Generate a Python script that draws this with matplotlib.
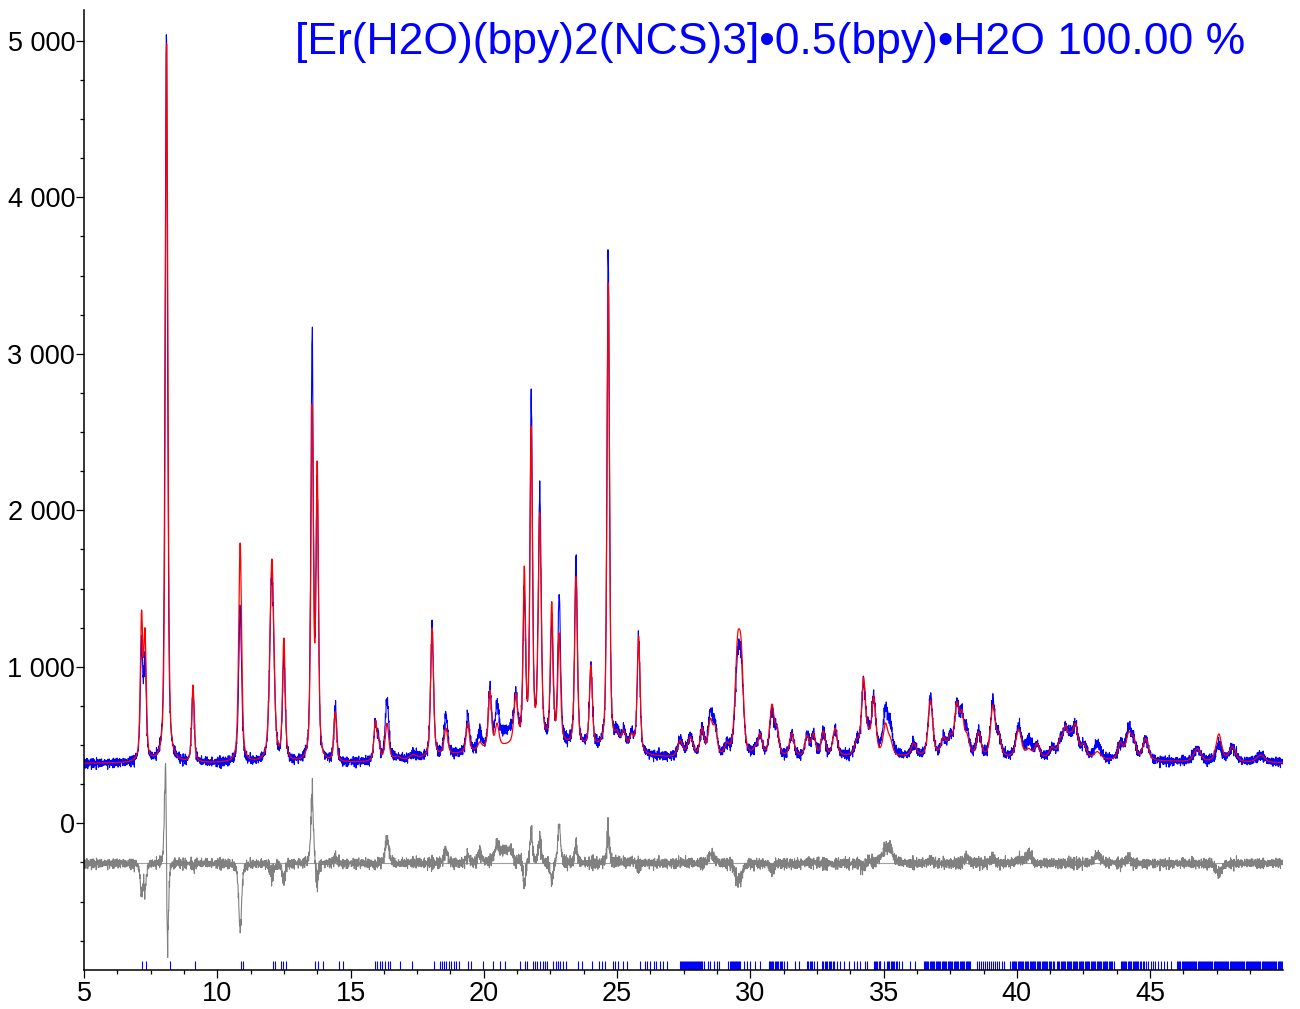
import numpy as np
import matplotlib
matplotlib.use("Agg")
import matplotlib.pyplot as plt
from matplotlib.ticker import MultipleLocator, FuncFormatter

plt.rcParams['font.family'] = ['Liberation Sans', 'DejaVu Sans']

# reflections: 2theta, calc top, obs top, fwhm
peak_pos = [7.16, 7.29, 8.10, 9.09, 10.86, 12.05, 12.50, 13.56, 13.75, 14.43,
            15.93, 16.05, 16.37, 16.75, 17.35, 18.06, 18.58, 19.40, 19.85, 20.23,
            20.50, 21.20, 21.52, 21.78, 22.10, 22.55, 22.83, 23.46, 24.02, 24.67,
            25.00, 25.25, 25.55, 25.81, 27.37, 27.75, 28.19, 28.50, 28.68, 29.12,
            29.52, 29.66, 30.19, 30.37, 30.81, 31.00, 31.56, 32.13, 32.37, 32.74,
            33.18, 34.00, 34.25, 34.43, 34.63, 35.07, 35.25, 36.13, 36.76, 37.25,
            37.50, 37.75, 37.94, 38.13, 38.57, 39.10, 39.32, 40.07, 40.45, 40.76,
            41.33, 41.64, 41.83, 42.01, 42.20, 42.51, 43.02, 43.89, 44.20, 44.39,
            44.83, 46.77, 47.58, 48.09, 49.15]
calc_top = [1363, 1250, 4980, 884, 1791, 1689, 1184, 2680, 2315, 713,
            656, 553, 639, 430, 440, 1246, 609, 641, 521, 852,
            641, 832, 1644, 2539, 1983, 1416, 1216, 1576, 1012, 3453,
            600, 596, 577, 1197, 532, 553, 613, 671, 628, 521,
            1199, 1167, 500, 576, 762, 617, 576, 564, 576, 590,
            607, 545, 933, 617, 813, 641, 553, 513, 788, 553,
            576, 777, 724, 576, 585, 756, 585, 601, 479, 511,
            489, 553, 628, 585, 639, 511, 458, 521, 585, 553,
            543, 479, 571, 489, 436]
obs_top = [1160, 1075, 5060, 860, 1369, 1620, 1065, 3120, 2200, 756,
           640, 560, 794, 430, 445, 1250, 692, 698, 596, 865,
           768, 830, 1491, 2741, 2130, 1300, 1471, 1687, 1010, 3644,
           620, 600, 590, 1180, 540, 560, 610, 724, 660, 520,
           1088, 1080, 500, 576, 724, 617, 570, 570, 580, 590,
           600, 545, 900, 640, 820, 743, 655, 513, 810, 553,
           576, 777, 724, 617, 585, 788, 585, 628, 543, 511,
           489, 553, 628, 585, 639, 511, 511, 521, 617, 553,
           543, 479, 500, 489, 436]
fwhm = [0.11, 0.11, 0.11, 0.11, 0.13, 0.18, 0.12, 0.11, 0.11, 0.12,
        0.13, 0.13, 0.16, 0.30, 0.30, 0.13, 0.16, 0.14, 0.16, 0.14,
        0.16, 0.16, 0.11, 0.11, 0.13, 0.12, 0.12, 0.12, 0.13, 0.11,
        0.20, 0.20, 0.20, 0.13, 0.22, 0.25, 0.18, 0.20, 0.18, 0.20,
        0.22, 0.20, 0.20, 0.18, 0.20, 0.18, 0.20, 0.18, 0.18, 0.18,
        0.20, 0.20, 0.18, 0.15, 0.18, 0.20, 0.20, 0.22, 0.20, 0.22,
        0.20, 0.20, 0.18, 0.20, 0.20, 0.20, 0.20, 0.25, 0.25, 0.22,
        0.25, 0.22, 0.20, 0.20, 0.22, 0.25, 0.30, 0.22, 0.25, 0.20,
        0.25, 0.30, 0.25, 0.30, 0.35]
# the observed 8.1 peak sits a touch lower in angle than the model
obs_shift = {2: -0.010}

# slowly varying background: flat level plus broad humps (centre, height, fwhm)
bkg_level = 383
hump_pos = [22.0, 35.0]
hump_height = [110, 40]
hump_width = [6.0, 16.0]
# extra diffuse intensity only in the measured pattern
obs_hump_pos = [20.9, 35.1]
obs_hump_height = [90, 40]
obs_hump_width = [0.9, 0.6]

diff_offset = -256

# small hand-typed scatter for the observed counts
noise_a = [5, -12, 18, -3, -20, 9, 14, -7, 2, -16, 22, -9, 4, 11, -25, 7, -2, 16, -11, 0,
           13, -18, 6, -5, 24, -14, 3, 8, -21, 10, -6, 19, -1, -13, 15, -8, 2, -23, 12, 6,
           -10, 17, -4, -15, 9, 1, -19, 21, -7, 4, -12, 14, -2, 8, -17, 11, -9, 26, -6, -3,
           10, -20, 5, 13, -11, 0, 18, -14, 7, -8, 3, -22, 16, -5, 9, -1, -16, 12, 4, -10,
           20, -13, 2, 6, -18, 15, -3, -7, 11, -24, 8, 1, 14, -9, -4, 17, -12, 5, -6, 10]
noise_b = [3, -6, 8, -2, -9, 5, 1, -4, 7, -8, 2, 6, -5, 9, -3, -7, 4, 0, -1, 8,
           -6, 3, -9, 5, 2, -4, 7, -2, -8, 6, 1, -5, 9, -3, 4, -7, 0]
noise_c = [4, -2, -6, 7, 1, -5, 3, -8, 6, -1, 2, -4, 8]

hkl_pos = [7.19, 7.32, 8.22, 9.16, 10.89, 10.97, 12.10, 12.18, 12.38, 12.45, 12.58,
           13.67, 13.77, 13.98, 14.55, 14.73, 15.91, 16.01, 16.11, 16.20, 16.30, 16.39,
           16.49, 16.86, 17.30, 18.14, 18.36, 18.45, 18.51, 18.59, 18.68, 18.77, 18.87,
           18.97, 19.06, 19.42, 19.51, 19.98, 20.33, 20.61, 20.80, 21.36, 21.55, 21.61,
           21.86, 21.93, 22.01, 22.11, 22.21, 22.30, 22.36, 22.61, 22.71, 22.80, 22.86,
           22.99, 23.08, 23.55, 23.68, 24.05, 24.34, 24.43, 24.55, 24.83, 24.93, 25.05,
           25.24, 25.37, 25.87, 26.06, 26.12, 26.24, 26.37, 26.47, 26.62, 26.74, 26.87,
           27.37, 27.40, 27.44, 27.47, 27.51, 27.55, 27.58, 27.62, 27.66, 27.69, 27.73,
           27.77, 27.80, 27.84, 27.88, 27.92, 27.95, 27.99, 28.03, 28.07, 28.11, 28.15,
           28.19, 28.25, 28.43, 28.50, 28.62, 28.75, 28.81, 29.18, 29.22, 29.26, 29.30,
           29.34, 29.38, 29.42, 29.46, 29.50, 29.54, 29.58, 29.62, 29.75, 29.87, 30.00,
           30.19, 30.37, 30.69, 30.73, 30.78, 30.82, 30.87, 30.91, 30.96, 31.00, 31.05,
           31.10, 31.15, 31.20, 31.25, 31.38, 31.69, 31.81, 32.13, 32.18, 32.23, 32.28,
           32.33, 32.38, 32.50, 32.69, 32.74, 32.79, 32.84, 32.89, 32.94, 32.99, 33.04,
           33.09, 33.13, 33.25, 33.38, 33.50, 33.69, 33.88, 34.00, 34.13, 34.32, 34.38,
           34.63, 34.67, 34.72, 34.76, 34.81, 34.85, 34.88, 35.00, 35.13, 35.17, 35.21,
           35.26, 35.31, 35.36, 35.41, 35.46, 35.51, 35.57, 35.69, 36.00, 36.19, 36.51,
           36.55, 36.60, 36.64, 36.68, 36.73, 36.77, 36.82, 36.86, 36.91, 36.95, 37.00,
           37.04, 37.09, 37.13, 37.18, 37.22, 37.27, 37.31, 37.36, 37.40, 37.45, 37.49,
           37.54, 37.58, 37.63, 37.67, 37.72, 37.76, 37.81, 37.85, 37.90, 37.94, 37.99,
           38.03, 38.08, 38.12, 38.17, 38.21, 38.26, 38.51, 38.58, 38.66, 38.73, 38.80,
           38.88, 38.96, 39.03, 39.10, 39.18, 39.26, 39.34, 39.43, 39.51, 39.76, 39.80,
           39.85, 39.89, 39.94, 39.98, 40.03, 40.07, 40.12, 40.16, 40.21, 40.25, 40.30,
           40.34, 40.39, 40.43, 40.48, 40.52, 40.57, 40.61, 40.66, 40.70, 40.75, 40.79,
           40.84, 40.88, 40.93, 40.97, 41.02, 41.06, 41.11, 41.15, 41.20, 41.25, 41.30,
           41.34, 41.39, 41.51, 41.55, 41.60, 41.64, 41.69, 41.73, 41.78, 41.82, 41.87,
           41.91, 41.96, 42.00, 42.05, 42.09, 42.14, 42.18, 42.23, 42.27, 42.32, 42.36,
           42.41, 42.45, 42.50, 42.54, 42.59, 42.63, 42.68, 42.72, 42.77, 42.81, 42.86,
           42.90, 42.95, 42.99, 43.04, 43.08, 43.13, 43.17, 43.22, 43.26, 43.31, 43.35,
           43.40, 43.44, 43.49, 43.53, 43.58, 43.64, 43.89, 43.93, 43.98, 44.02, 44.07,
           44.11, 44.16, 44.20, 44.25, 44.29, 44.34, 44.38, 44.43, 44.47, 44.52, 44.56,
           44.61, 44.66, 44.72, 44.78, 44.85, 44.93, 45.02, 45.10, 45.20, 45.28, 45.40,
           45.52, 45.64, 45.77, 46.02, 46.06, 46.10, 46.14, 46.18, 46.22, 46.26, 46.30,
           46.34, 46.38, 46.42, 46.46, 46.50, 46.54, 46.58, 46.62, 46.66, 46.70, 46.74,
           46.78, 46.82, 46.86, 46.90, 46.94, 46.98, 47.02, 47.06, 47.10, 47.14, 47.18,
           47.22, 47.26, 47.30, 47.34, 47.38, 47.42, 47.46, 47.50, 47.54, 47.58, 47.62,
           47.66, 47.70, 47.74, 47.78, 47.82, 47.86, 47.90, 47.94, 47.98, 48.02, 48.06,
           48.10, 48.14, 48.18, 48.22, 48.26, 48.30, 48.34, 48.38, 48.42, 48.46, 48.50,
           48.54, 48.58, 48.62, 48.66, 48.70, 48.74, 48.78, 48.82, 48.86, 48.90, 48.94,
           48.98, 49.02, 49.06, 49.10, 49.14, 49.18, 49.22, 49.26, 49.30, 49.34, 49.38,
           49.42, 49.46, 49.50, 49.54, 49.58, 49.62, 49.66, 49.70, 49.74, 49.78, 49.82,
           49.86, 49.90, 49.94]

title = "[Er(H2O)(bpy)2(NCS)3]\u20220.5(bpy)\u2022H2O 100.00 %"

ETA = 0.5


def shape(x, p, w):
    # pseudo-Voigt with unit height
    d = (x - p) / w
    return ETA / (1.0 + 4.0 * d ** 2) + (1 - ETA) * np.exp(-4.0 * np.log(2) * d ** 2)


def gauss(x, p, w):
    return np.exp(-4.0 * np.log(2) * ((x - p) / w) ** 2)


def base(x, extra=False):
    b = np.full_like(np.asarray(x, dtype=float), bkg_level)
    for p, h, w in zip(hump_pos, hump_height, hump_width):
        b = b + h * gauss(x, p, w)
    if extra:
        for p, h, w in zip(obs_hump_pos, obs_hump_height, obs_hump_width):
            b = b + h * gauss(x, p, w)
    return b


def build(x, pos, tops, widths, extra=False):
    # pick peak heights so the summed curve passes through the read tops
    pos = np.array(pos)
    widths = np.array(widths)
    A = np.array([[shape(pi, pj, wj) for pj, wj in zip(pos, widths)] for pi in pos])
    rhs = np.array(tops, dtype=float) - base(pos, extra)
    h = np.clip(np.linalg.solve(A, rhs), 0, None)
    y = base(x, extra)
    for p, hh, w in zip(pos, h, widths):
        y = y + hh * shape(x, p, w)
    return y


tth = np.round(np.arange(5.0, 49.99, 0.01), 3)
y_calc = build(tth, peak_pos, calc_top, fwhm)
obs_pos = [p + obs_shift.get(i, 0.0) for i, p in enumerate(peak_pos)]
y_obs = build(tth, obs_pos, obs_top, fwhm, extra=True)
idx = np.arange(len(tth))
scatter = (np.array(noise_a)[idx % len(noise_a)] + np.array(noise_b)[idx % len(noise_b)]
           + np.array(noise_c)[idx % len(noise_c)])
y_obs = y_obs + 1.2 * scatter * np.sqrt(y_obs / 400.0)
y_diff = y_obs - y_calc + diff_offset

fig = plt.figure(figsize=(13, 10.09), dpi=100)
ax = fig.add_axes([0.0646, 0.0387, 0.9224, 0.9514])

ax.plot(tth, y_obs, color='blue', lw=0.8)
ax.plot(tth, y_calc, color='red', lw=0.9)
ax.axhline(diff_offset, color='#a0a0a0', lw=0.8)
ax.plot(tth, y_diff, color='#808080', lw=0.8)
ax.vlines(hkl_pos, -937, -878, color='blue', lw=0.8)

ax.set_xlim(5, 49.99)
ax.set_ylim(-937, 5197)
ax.set_xticks([5, 10, 15, 20, 25, 30, 35, 40, 45])
ax.xaxis.set_minor_locator(MultipleLocator(1.25))
ax.set_yticks([0, 1000, 2000, 3000, 4000, 5000])
ax.yaxis.set_minor_locator(MultipleLocator(250))
ax.yaxis.set_major_formatter(FuncFormatter(lambda v, p: f"{int(v):,}".replace(",", " ")))

for s in ['top', 'right']:
    ax.spines[s].set_visible(False)
for s in ['left', 'bottom']:
    ax.spines[s].set_linewidth(1.1)

ax.tick_params(which='major', length=5.8, width=0.9, labelsize=19.5, pad=0.5)
ax.tick_params(which='minor', length=2.9, width=0.9)
ax.tick_params(axis='x', which='major', pad=2)

fig.text(0.958, 0.958, title, color='blue', fontsize=32, ha='right', va='center')

fig.savefig("out.png", dpi=100)
